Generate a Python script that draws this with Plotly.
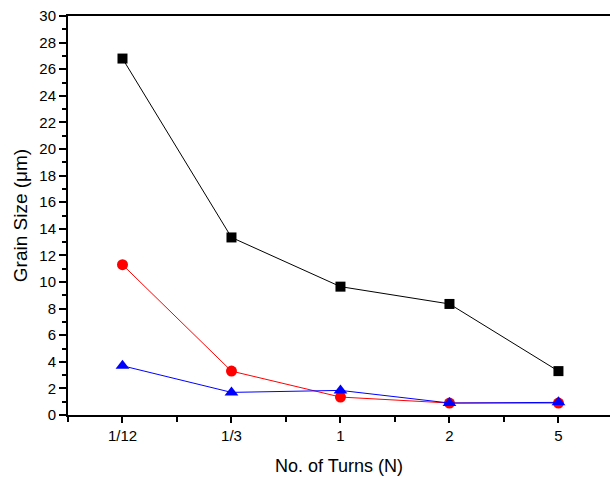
import plotly.graph_objects as go

categories = ["1/12", "1/3", "1", "2", "5"]
black_vals = [26.8, 13.35, 9.65, 8.35, 3.3]
red_vals = [11.3, 3.3, 1.35, 0.9, 0.9]
blue_vals = [3.7, 1.7, 1.85, 0.9, 0.95]
y_ticks = list(range(0, 31, 2))

xpos = list(range(len(categories)))

fig = go.Figure()
fig.add_trace(go.Scatter(x=xpos, y=black_vals, mode="lines+markers",
                         line=dict(color="black", width=1),
                         marker=dict(symbol="square", size=10, color="black")))
fig.add_trace(go.Scatter(x=xpos, y=red_vals, mode="lines+markers",
                         line=dict(color="red", width=1),
                         marker=dict(symbol="circle", size=11, color="red")))
fig.add_trace(go.Scatter(x=xpos, y=blue_vals, mode="lines+markers",
                         line=dict(color="blue", width=1),
                         marker=dict(symbol="triangle-up", size=12, color="blue")))

font = dict(family="Liberation Sans, Arial, sans-serif", color="black")
fig.update_layout(
    width=610, height=484,
    margin=dict(l=68, r=0, t=16, b=69, autoexpand=False),
    paper_bgcolor="white", plot_bgcolor="white",
    showlegend=False,
    font=font,
)
fig.update_xaxes(
    range=[-0.5, 4.473], tickmode="array", tickvals=xpos, ticktext=categories,
    ticks="outside", ticklen=6, tickwidth=1.5, tickcolor="black",
    minor=dict(tickmode="array", tickvals=[-0.5 + i for i in range(6)], ticks="outside", ticklen=5, tickcolor="black", tickwidth=1.5),
    showline=True, linecolor="black", linewidth=2, mirror=True,
    showgrid=False, zeroline=False, automargin=False,
    tickfont=dict(size=15, **font),
    title=dict(text="No. of Turns (N)", font=dict(size=18, **font), standoff=16),
)
fig.update_yaxes(
    range=[0, 30], tickmode="array", tickvals=y_ticks, ticktext=[str(v) for v in y_ticks],
    ticks="outside", ticklen=7, tickwidth=1.5, tickcolor="black",
    minor=dict(tickmode="array", tickvals=list(range(1, 30, 2)), ticks="outside", ticklen=4, tickcolor="black", tickwidth=1.5),
    showline=True, linecolor="black", linewidth=2, mirror=False,
    showgrid=False, zeroline=False, automargin=False,
    tickfont=dict(size=15, **font),
    title=dict(text="Grain Size (μm)", font=dict(size=19, **font), standoff=7),
)

fig.write_html("out.html")
